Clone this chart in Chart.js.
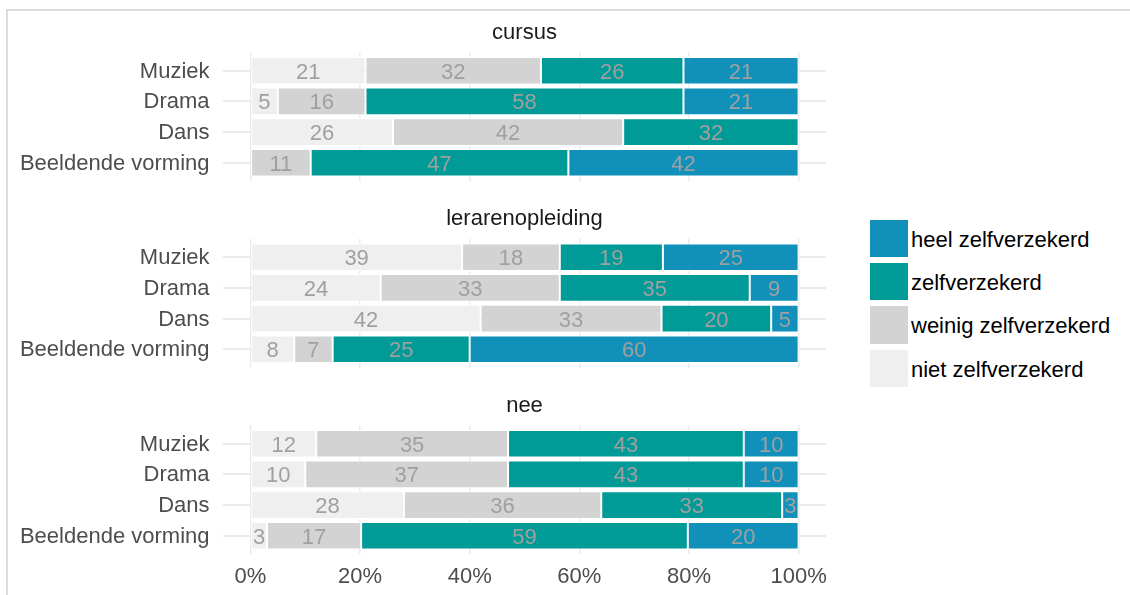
<!DOCTYPE html>
<html>
<head>
<meta charset="utf-8">
<script src="https://cdn.jsdelivr.net/npm/chart.js@4.4.1/dist/chart.umd.min.js"></script>
<style>
html,body{margin:0;padding:0;background:#fff;width:1130px;height:595px;overflow:hidden;font-family:"Liberation Sans",Arial,sans-serif;}
#frame{position:absolute;left:6px;top:9px;width:1124px;height:586px;border-top:2px solid #dedbd6;border-left:2px solid #dedbd6;box-sizing:border-box;}
.panel{position:absolute;left:0;}
.panel canvas{display:block;}
.lg-box{position:absolute;left:870px;width:37.5px;height:37.5px;}
.lg-text{position:absolute;left:911px;font-size:22px;line-height:37.5px;color:#000;white-space:nowrap;}
</style>
</head>
<body>
<div id="frame"></div>
<div class="panel" style="top:0px"><canvas id="c0" width="840" height="186"></canvas></div>
<div class="panel" style="top:186px"><canvas id="c1" width="840" height="187"></canvas></div>
<div class="panel" style="top:373px"><canvas id="c2" width="840" height="222"></canvas></div>
<div id="legend"></div>
<script>
// ---- data ----
const categories = ['Muziek', 'Drama', 'Dans', 'Beeldende vorming'];
const seriesNames = ['niet zelfverzekerd', 'weinig zelfverzekerd', 'zelfverzekerd', 'heel zelfverzekerd'];
const seriesColors = ['#efefef', '#d3d3d3', '#009a97', '#1190ba'];
const panelTitles = ['cursus', 'lerarenopleiding', 'nee'];
const xTickValues = [0, 20, 40, 60, 80, 100];

const cursusNiet   = [21, 5, 26, 0];
const cursusWeinig = [32, 16, 42, 11];
const cursusZelf   = [26, 58, 32, 47];
const cursusHeel   = [21, 21, 0, 42];

const lerarenNiet   = [39, 24, 42, 8];
const lerarenWeinig = [18, 33, 33, 7];
const lerarenZelf   = [19, 35, 20, 25];
const lerarenHeel   = [25, 9, 5, 60];

const neeNiet   = [12, 10, 28, 3];
const neeWeinig = [35, 37, 36, 17];
const neeZelf   = [43, 43, 33, 59];
const neeHeel   = [10, 10, 3, 20];

const panelSeries = [
  [cursusNiet, cursusWeinig, cursusZelf, cursusHeel],
  [lerarenNiet, lerarenWeinig, lerarenZelf, lerarenHeel],
  [neeNiet, neeWeinig, neeZelf, neeHeel]
];

// ---- layout (pixels) ----
const layouts = [
  {canvas: 'c0', height: 186, areaTop: 52.3, areaBottom: 181.2, showX: false},
  {canvas: 'c1', height: 187, areaTop: 52.8, areaBottom: 181.7, showX: false},
  {canvas: 'c2', height: 222, areaTop: 52.3, areaBottom: 181.2, showX: true}
];

Chart.defaults.font.family = '"Liberation Sans", Arial, sans-serif';
Chart.defaults.font.size = 22;

const barLabels = {
  id: 'barLabels',
  afterDatasetsDraw(chart) {
    const ctx = chart.ctx;
    ctx.save();
    ctx.font = '22px "Liberation Sans", Arial, sans-serif';
    ctx.fillStyle = '#a0a0a0';
    ctx.textAlign = 'center';
    ctx.textBaseline = 'middle';
    chart.data.datasets.forEach((ds, di) => {
      const meta = chart.getDatasetMeta(di);
      meta.data.forEach((el, i) => {
        const v = ds.values[i];
        if (!v) return;
        const p = el.getProps(['x', 'base', 'y'], true);
        ctx.fillText(String(v), (p.x + p.base) / 2, p.y + 2);
      });
    });
    ctx.restore();
  }
};

const panelTitle = {
  id: 'panelTitle',
  afterDraw(chart, args, opts) {
    const a = chart.chartArea;
    const ctx = chart.ctx;
    ctx.save();
    ctx.font = '22px "Liberation Sans", Arial, sans-serif';
    ctx.fillStyle = '#1a1a1a';
    ctx.textAlign = 'center';
    ctx.textBaseline = 'middle';
    ctx.fillText(opts.text, (a.left + a.right) / 2, a.top - 19.5);
    ctx.restore();
  }
};

layouts.forEach((L, k) => {
  const series = panelSeries[k];
  const rowTotals = categories.map((_, i) => series.reduce((s, arr) => s + arr[i], 0));
  const datasets = series.map((arr, j) => ({
    label: seriesNames[j],
    values: arr,
    data: arr.map((v, i) => ({x: v / rowTotals[i] * 100, y: i})),
    backgroundColor: seriesColors[j],
    borderColor: '#ffffff',
    borderWidth: 1,
    borderSkipped: false,
    barPercentage: 0.9,
    categoryPercentage: 1.0
  }));
  const xAxisHeight = L.height - L.areaBottom;

  new Chart(document.getElementById(L.canvas), {
    type: 'bar',
    data: {datasets},
    plugins: [barLabels, panelTitle],
    options: {
      indexAxis: 'y',
      responsive: false,
      animation: false,
      layout: {autoPadding: false, padding: {left: 0, right: 14, top: L.areaTop, bottom: 0}},
      plugins: {
        legend: {display: false},
        title: {display: false},
        tooltip: {enabled: false},
        panelTitle: {text: panelTitles[k]}
      },
      scales: {
        x: {
          type: 'linear', stacked: true, min: -5, max: 105, offset: false,
          afterBuildTicks: s => { s.ticks = xTickValues.map(v => ({value: v})); },
          afterFit: s => {
            s.height = xAxisHeight;
            s.paddingLeft = 0; s.paddingRight = 0; s.paddingTop = 0; s.paddingBottom = 0;
          },
          grid: {color: '#ebebeb', lineWidth: 1.5, drawTicks: false, offset: false},
          border: {display: false},
          ticks: {display: L.showX, callback: v => v + '%', color: '#4d4d4d', padding: 9.6,
                  font: {size: 22}, maxRotation: 0, autoSkip: false}
        },
        y: {
          type: 'linear', stacked: true, reverse: true, min: -0.6, max: 3.6, offset: false,
          afterBuildTicks: s => { s.ticks = categories.map((c, i) => ({value: i})); },
          afterFit: s => {
            s.width = 223;
            s.paddingLeft = 0; s.paddingRight = 0; s.paddingTop = 0; s.paddingBottom = 0;
          },
          grid: {color: '#ebebeb', lineWidth: 2, drawTicks: false, offset: false},
          border: {display: false},
          ticks: {callback: v => categories[v], color: '#4d4d4d', padding: 13.5,
                  font: {size: 22}, autoSkip: false, labelOffset: 1}
        }
      }
    }
  });
});

// ---- legend (reverse order: heel first) ----
const legendTops = [219.5, 262.9, 306.3, 349.7];
const legend = document.getElementById('legend');
[3, 2, 1, 0].forEach((j, r) => {
  const box = document.createElement('div');
  box.className = 'lg-box';
  box.style.top = legendTops[r] + 'px';
  box.style.background = seriesColors[j];
  legend.appendChild(box);
  const t = document.createElement('div');
  t.className = 'lg-text';
  t.style.top = (legendTops[r] + 1) + 'px';
  t.textContent = seriesNames[j];
  legend.appendChild(t);
});
</script>
</body>
</html>
